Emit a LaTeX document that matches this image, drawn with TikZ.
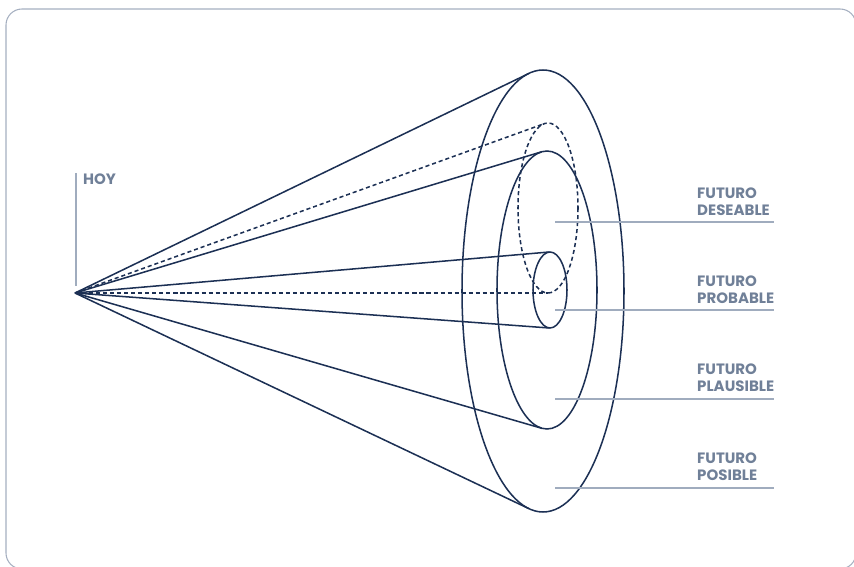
\documentclass[tikz,border=0pt]{standalone}
\usepackage{fontspec}
\setmainfont{Poppins}
\usepackage{tikz}
\definecolor{NavyLine}{RGB}{28, 48, 84}
\definecolor{LabelGray}{RGB}{112, 128, 152}
\definecolor{RuleGray}{RGB}{160, 172, 190}
\definecolor{FrameGray}{RGB}{165, 175, 192}

\begin{document}
\begin{tikzpicture}[x=0.03cm, y=-0.03cm,
    cone/.style={line width=1.3pt, NavyLine},
    conedash/.style={cone, dash pattern=on 3.5pt off 2.5pt},
    rule/.style={line width=0.9pt, RuleGray},
    futlabel/.style={anchor=base west, align=left, inner sep=0pt, text=LabelGray,
      font=\bfseries\fontsize{12.8}{15.3}\selectfont}]
        \useasboundingbox (0,0) rectangle (854,567);
        \clip (0,0) rectangle (854,567);
        \draw[FrameGray, line width=0.9pt, rounded corners=0.48cm] (6,9) rectangle (856,569);

        % Hoy
        \coordinate (apex) at (75,293);
        \draw[rule] (76,173) -- (76,286);
        \node[futlabel] (hoy) at (83,185) {HOY};

        % Futuro posible
        \draw[cone] (543,291) ellipse [x radius=81, y radius=221];
        \draw[cone] (apex) -- (529,73.4);
        \draw[cone] (apex) -- (529,508.7);

        % Futuro plausible
        \draw[cone] (547,290) ellipse [x radius=50, y radius=139];
        \draw[cone] (apex) -- (541.6,151.8);
        \draw[cone] (apex) -- (541.8,428.3);

        % Futuro deseable (discontinuo)
        \draw[conedash] (548,208) ellipse [x radius=30, y radius=85];
        \draw[conedash] (apex) -- (544.2,123.7);
        \draw[conedash] (apex) -- (548,293);

        % Futuro probable
        \draw[cone] (550,290) ellipse [x radius=17, y radius=38];
        \draw[cone] (apex) -- (549.3,252);
        \draw[cone] (apex) -- (549.4,328);

        % Etiquetas
        \draw[rule] (555,222) -- (774,222);
        \node[futlabel] (deseable) at (697,216) {FUTURO\\DESEABLE};
        \draw[rule] (555,310) -- (774,310);
        \node[futlabel] (probable) at (697,304) {FUTURO\\PROBABLE};
        \draw[rule] (555,399) -- (774,399);
        \node[futlabel] (plausible) at (697,392) {FUTURO\\PLAUSIBLE};
        \draw[rule] (555,488) -- (774,488);
        \node[futlabel] (posible) at (697,481) {FUTURO\\POSIBLE};
      \end{tikzpicture}
\end{document}
